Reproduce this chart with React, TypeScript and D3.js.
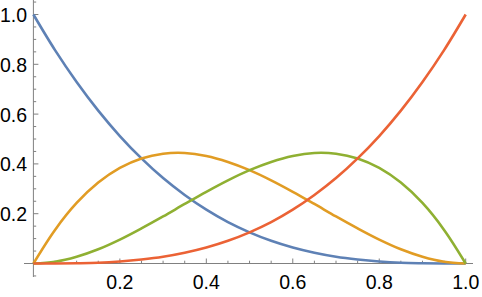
import React from "react";
import * as d3 from "d3";

const tValues = [0, 0.05, 0.1, 0.15, 0.2, 0.25, 0.3, 0.35, 0.4, 0.45, 0.5, 0.55, 0.6, 0.65, 0.7, 0.75, 0.8, 0.85, 0.9, 0.95, 1];
const blueSeries = [1, 0.857, 0.729, 0.614, 0.512, 0.422, 0.343, 0.275, 0.216, 0.166, 0.125, 0.091, 0.064, 0.043, 0.027, 0.016, 0.008, 0.003, 0.001, 0.0, 0];
const orangeSeries = [0, 0.135, 0.243, 0.325, 0.384, 0.422, 0.441, 0.444, 0.432, 0.408, 0.375, 0.334, 0.288, 0.239, 0.189, 0.141, 0.096, 0.057, 0.027, 0.007, 0];
const greenSeries = [0, 0.007, 0.027, 0.057, 0.096, 0.141, 0.189, 0.239, 0.288, 0.334, 0.375, 0.408, 0.432, 0.444, 0.441, 0.422, 0.384, 0.325, 0.243, 0.135, 0];
const redSeries = [0, 0.0, 0.001, 0.003, 0.008, 0.016, 0.027, 0.043, 0.064, 0.091, 0.125, 0.166, 0.216, 0.275, 0.343, 0.422, 0.512, 0.614, 0.729, 0.857, 1];
const xTickLabels = ["0.2", "0.4", "0.6", "0.8", "1.0"];
const yTickLabels = ["0.2", "0.4", "0.6", "0.8", "1.0"];

const W = 482;
const H = 297;

export default function App() {
  const x = d3.scaleLinear().domain([0, 1]).range([33.4, 465.7]);
  const y = d3.scaleLinear().domain([0, 1]).range([263.5, 14.5]);
  const series = [
    { vals: blueSeries, color: "#5E81B5" },
    { vals: orangeSeries, color: "#E19C24" },
    { vals: greenSeries, color: "#8FB032" },
    { vals: redSeries, color: "#EB6235" },
  ];
  const line = d3
    .line<[number, number]>()
    .x((d) => x(d[0]))
    .y((d) => y(d[1]))
    .curve(d3.curveCatmullRom.alpha(0.5));

  const minor = d3.range(-1, 22).map((i) => i * 0.05);
  const axisColor = "#808080";
  const font = "'Liberation Sans', Arial, sans-serif";

  return (
    <svg width={W} height={H} style={{ position: "absolute", left: 0, top: 0 }}>
      <line x1={24} x2={473} y1={y(0)} y2={y(0)} stroke={axisColor} strokeWidth={1} />
      <line x1={x(0)} x2={x(0)} y1={0} y2={277} stroke={axisColor} strokeWidth={1} />
      {minor
        .filter((v) => v > 0.001 && v <= 1.02)
        .map((v, i) => {
          const major = Math.abs(v / 0.2 - Math.round(v / 0.2)) < 1e-6;
          return (
            <line key={"xt" + i} x1={x(v)} x2={x(v)} y1={y(0)} y2={y(0) - (major ? 5 : 2.8)} stroke={axisColor} />
          );
        })}
      {minor
        .filter((v) => Math.abs(v) > 0.001 && v <= 1.06)
        .map((v, i) => {
          const major = Math.abs(v / 0.2 - Math.round(v / 0.2)) < 1e-6;
          return (
            <line key={"yt" + i} x1={x(0)} x2={x(0) + (major ? 5 : 2.8)} y1={y(v)} y2={y(v)} stroke={axisColor} />
          );
        })}
      {xTickLabels.map((s) => (
        <text key={"xl" + s} x={x(+s)} y={289} textAnchor="middle" fontFamily={font} fontSize={19.5} fill="#000">
          {s}
        </text>
      ))}
      {yTickLabels.map((s) => (
        <text key={"yl" + s} x={27} y={y(+s)} dy="0.38em" textAnchor="end" fontFamily={font} fontSize={19.5} fill="#000">
          {s}
        </text>
      ))}
      {series.map((s, i) => (
        <path
          key={i}
          d={line(tValues.map((t, j) => [t, s.vals[j]]) as [number, number][]) || ""}
          fill="none"
          stroke={s.color}
          strokeWidth={2.6}
        />
      ))}
    </svg>
  );
}
